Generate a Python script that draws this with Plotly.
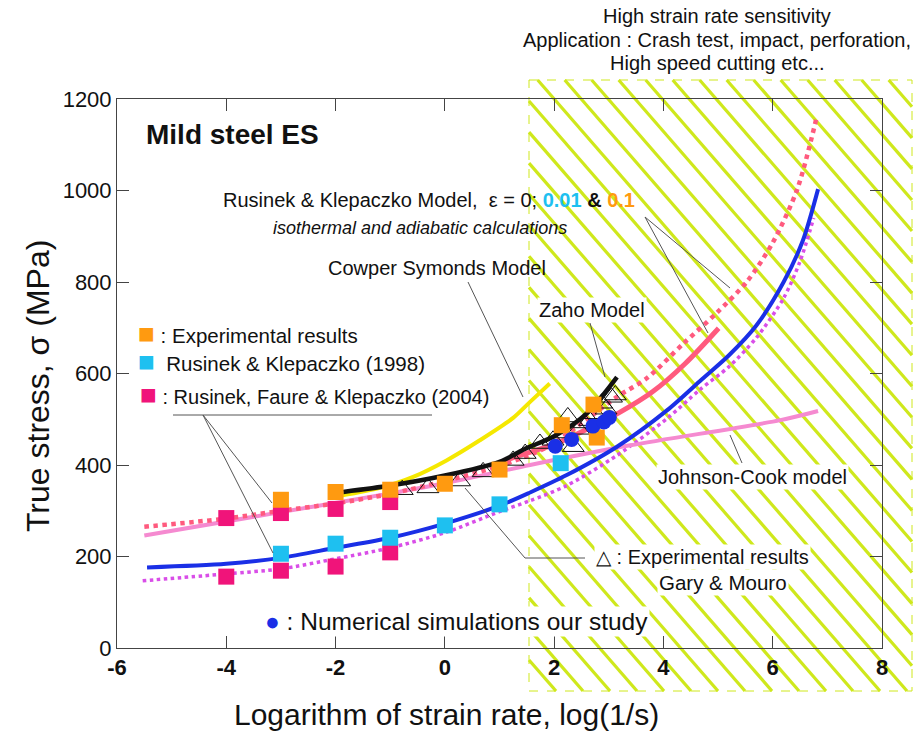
import plotly.graph_objects as go

# ---------------- data ----------------
# Rusinek & Klepaczko model, eps = 0 (blue, solid)
rk0_x = [-5.45, -4, -3, -2, -1, 0, 1, 1.56, 2.23, 3.15, 4.07, 4.7, 5.2, 5.7, 6.2, 6.55, 6.83]
rk0_y = [176, 184, 197, 219, 241, 272, 311, 340, 378, 440, 520, 587, 640, 705, 800, 890, 1003]
# lower dotted (violet)
rkl_x = [-5.53, -4, -3, -2, -1, 0, 1, 1.56, 2.23, 3.15, 4.07, 4.67, 5.2, 5.7, 6.2, 6.5, 6.75]
rkl_y = [147, 162, 173, 195, 219, 252, 298, 322, 355, 421, 502, 565, 615, 678, 765, 845, 940]
# Johnson-Cook model (light pink)
jc_x = [-5.5, -3, -1, 0, 1.56, 3.39, 6.14, 6.83]
jc_y = [246, 297, 338, 360, 400, 443, 498, 518]
# upper dotted (salmon)
rku_x = [-5.5, -4, -3, -2, -1, 0, 1, 1.87, 2.6, 3.15, 3.7, 4.37, 4.98, 5.53, 6.0, 6.45, 6.81]
rku_y = [265, 283, 300, 316, 337, 365, 398, 439, 500, 549, 590, 666, 733, 801, 886, 1003, 1163]
# eps = 0.01 solid (salmon)
rks_x = [1.0, 1.37, 2.0, 2.6, 3.2, 3.8, 4.4, 5.01]
rks_y = [405, 421, 445, 478, 515, 560, 622, 699]
# Zaho model (black)
zh_x = [-1.86, -1, 0, 1, 1.5, 2, 2.6, 3.15]
zh_y = [341, 355, 377, 407, 437, 463, 513, 592]
# Cowper Symonds model (yellow)
cs_x = [-1.9, -1.19, -0.58, 0.03, 0.64, 1.25, 1.56, 1.92]
cs_y = [333, 350, 374, 410, 454, 503, 538, 578]

# Experimental results (orange squares)
exp_x = [-3, -2, -1, 0, 1, 2.14, 2.72, 2.78]
exp_y = [324, 341, 346, 359, 390, 487, 532, 460]
# Rusinek & Klepaczko (1998) (cyan squares)
rk98_x = [-3, -2, -1, 0, 1, 2.12]
rk98_y = [206, 228, 241, 268, 314, 404]
# Rusinek, Faure & Klepaczko (2004) (magenta squares)
rfk_x = [-4, -3, -2, -1, -4, -3, -2, -1]
rfk_y = [284, 295, 304, 319, 156, 169, 178, 209]
# Gary & Mouro (open triangles)
gm_x = [-0.78, -0.31, 0.27, 0.70, 1.25, 1.47, 1.74, 1.98, 2.16, 2.25, 2.35, 2.45, 2.55, 2.65, 2.75, 2.87, 2.95, 3.05, 3.12]
gm_y = [346, 350, 365, 385, 410, 425, 447, 454, 470, 505, 440, 478, 492, 497, 512, 535, 522, 548, 553]
# Numerical simulations (blue circles)
num_x = [2.02, 2.32, 2.71, 2.91, 3.01]
num_y = [441, 456, 485, 494, 504]

x_ticks = [-6, -4, -2, 0, 2, 4, 6, 8]
y_ticks = [0, 200, 400, 600, 800, 1000, 1200]

# ---------------- layout helpers ----------------
W, H = 915, 743
L, R, T, B = 117, 882, 99, 648   # plot area in pixels
PW, PH = R - L, B - T
FONT = "Liberation Sans, Arial, sans-serif"


def px(xp):
    return (xp - L) / PW


def py(yp):
    return (B - yp) / PH


def d2x(xp):
    return -6 + (xp - L) / PW * 14


def d2y(yp):
    return (B - yp) / PH * 1200


fig = go.Figure()


def line(x, y, color, width, dash="solid"):
    fig.add_trace(go.Scatter(x=x, y=y, mode="lines", line=dict(color=color, width=width, dash=dash,
                                                                  shape="spline", smoothing=0.8),
                             hoverinfo="skip", showlegend=False))


line(rkl_x, rkl_y, "#d94ee8", 3.5, "dot")
line(jc_x, jc_y, "#f58ad0", 4)
line(rku_x, rku_y, "#ff5a7e", 4.5, "dot")
line(rks_x, rks_y, "#ff5a7e", 5)
line(rk0_x, rk0_y, "#1a2fe6", 4)
line(cs_x, cs_y, "#f5e800", 4)
line(zh_x, zh_y, "#111111", 4.5)


def pts(x, y, color, symbol, size, lc=None, lw=0):
    fig.add_trace(go.Scatter(x=x, y=y, mode="markers",
                             marker=dict(color=color, symbol=symbol, size=size,
                                         line=dict(color=lc or color, width=lw)),
                             hoverinfo="skip", showlegend=False))


pts(gm_x, gm_y, "#111111", "triangle-up-open", 19, "#111111", 1)
pts(rfk_x, rfk_y, "#f0147a", "square", 16)
pts(rk98_x, rk98_y, "#1ec0f0", "square", 16)
pts(exp_x, exp_y, "#ff9a10", "square", 16)
pts(num_x, num_y, "#1a2fe6", "circle", 15)

# ---------------- hatched region ----------------
shapes = []
HX0, HX1, HY0, HY1 = 529, 912, 80, 691
slope = 1.15
step = 27
hh = HY1 - HY0
c = HX0 - hh / slope
while c < HX1:
    xs = max(c, HX0)
    xe = min(c + hh / slope, HX1)
    if xs < xe:
        ys = HY0 + slope * (xs - c)
        ye = HY0 + slope * (xe - c)
        shapes.append(dict(type="line", xref="paper", yref="paper", layer="below",
                           x0=px(xs), y0=py(ys), x1=px(xe), y1=py(ye),
                           line=dict(color="#cfe81c", width=3.2)))
    c += step
shapes.append(dict(type="rect", xref="paper", yref="paper", layer="below",
                   x0=px(HX0), y0=py(HY0), x1=px(HX1), y1=py(HY1),
                   line=dict(color="#cfe81c", width=1, dash="dash")))


# leader lines (thin grey)
def seg(a, b, c_, d):
    shapes.append(dict(type="line", xref="x", yref="y", x0=d2x(a), y0=d2y(b), x1=d2x(c_), y1=d2y(d),
                       line=dict(color="#555555", width=1)))


seg(173, 415, 432, 415)
seg(203, 415, 272, 503)
seg(203, 415, 273, 553)
seg(468, 282, 523, 397)
seg(645, 217, 730, 288)
seg(645, 217, 708, 333)
seg(590, 323, 605, 377)
seg(730, 435, 742, 463)
seg(465, 488, 525, 558)
seg(525, 558, 585, 558)

# ---------------- annotations ----------------
ann = []


def text(t, xp, yp, size, xanchor="left", bg=None, color="#111111", bold=False, italic=False, angle=0):
    a = dict(text=t, x=px(xp), y=py(yp), xref="paper", yref="paper", xanchor=xanchor, yanchor="middle",
             showarrow=False, textangle=angle,
             font=dict(family=FONT, size=size, color=color,
                       weight="bold" if bold else "normal",
                       style="italic" if italic else "normal"))
    if bg:
        a.update(bgcolor=bg, borderpad=1)
    ann.append(a)


text("High strain rate sensitivity", 717, 16, 20, xanchor="center")
text("Application : Crash test, impact, perforation,", 717, 40, 20, xanchor="center")
text("High speed cutting etc...", 717, 63, 20, xanchor="center")
text("Mild steel ES", 144, 135, 28, bold=True)
text("Rusinek &amp; Klepaczko Model,  ε = 0; <b><span style='color:#1ec0f0'>0.01</span> &amp; "
     "<span style='color:#ff9a10'>0.1</span></b>", 221, 200, 20)
text("isothermal and adiabatic calculations", 271, 228, 18, italic=True)
text("Cowper Symonds Model", 326, 268, 20)
text("<span style='color:#ff9a10;font-size:28px'>■</span> : Experimental results", 136, 333, 20.5)
text("<span style='color:#1ec0f0;font-size:28px'>■</span>  Rusinek &amp; Klepaczko (1998)", 136, 361, 20.5)
text("<span style='color:#f0147a;font-size:28px'>■</span> : Rusinek, Faure &amp; Klepaczko (2004)", 138, 394, 20)
text("Zaho Model", 537, 310, 20, bg="white")
text("Johnson-Cook model", 656, 477, 20, bg="white")
text("△ : Experimental results", 594, 557, 20, bg="white")
text("Gary &amp; Mouro", 657, 582, 20.5, bg="white")
text("<span style='color:#1a2fe6'>●</span> : Numerical simulations our study", 263, 621, 24.5, bg="white")
# axis titles
text("Logarithm of strain rate, log(1/s)", 446, 714, 30, xanchor="center")
text("True stress, σ (MPa)", 38, 386, 32, xanchor="center", angle=-90)

axis_common = dict(showline=True, linecolor="#444444", linewidth=1, mirror="allticks",
                   ticks="inside", ticklen=12, tickcolor="#444444", tickwidth=1,
                   showgrid=False, zeroline=False)

fig.update_layout(
    width=W, height=H,
    margin=dict(l=L, r=W - R, t=T, b=H - B),
    paper_bgcolor="white", plot_bgcolor="white",
    shapes=shapes, annotations=ann,
    xaxis=dict(range=[-6, 8], tickvals=x_ticks, ticktext=[str(v) for v in x_ticks],
               tickfont=dict(family="Liberation Sans Narrow, " + FONT, size=22, color="#111111", weight="bold"),
               **axis_common),
    yaxis=dict(range=[0, 1200], tickvals=y_ticks, ticktext=[str(v) for v in y_ticks],
               tickfont=dict(family=FONT, size=22, color="#111111"),
               **axis_common),
    showlegend=False,
)

fig.write_html("out.html")
